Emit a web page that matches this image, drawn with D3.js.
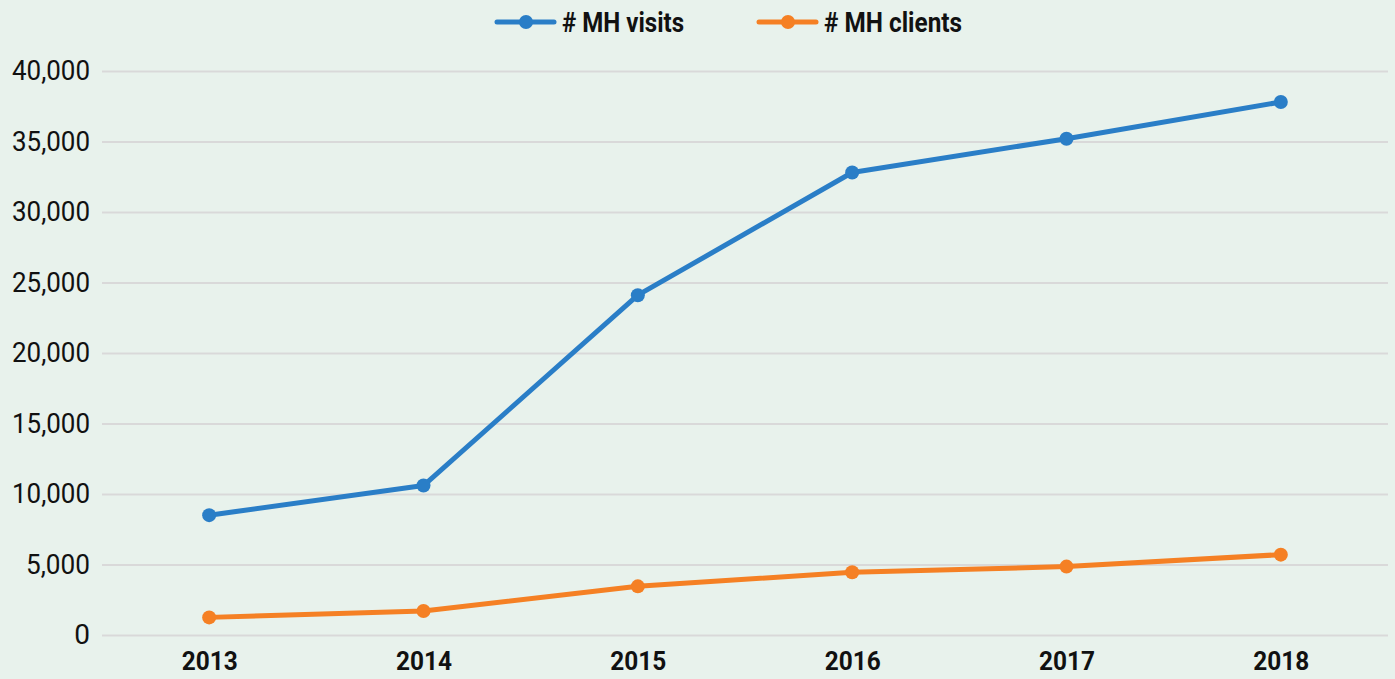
<!doctype html>
<html lang="en">
<head>
<meta charset="UTF-8" />
<title>MH visits and clients</title>
<script src="https://cdn.jsdelivr.net/npm/d3@7"></script>
<style>
  html, body { margin: 0; padding: 0; background: #e8f2ec; }
  svg { display: block; }
</style>
</head>
<body>
<svg id="chart" width="1395" height="679"></svg>
<script>
// data
const years = ["2013", "2014", "2015", "2016", "2017", "2018"];
const mhVisits = [8500, 10600, 24100, 32800, 35200, 37800];
const mhClients = [1250, 1700, 3450, 4450, 4850, 5700];
const yTicks = [0, 5000, 10000, 15000, 20000, 25000, 30000, 35000, 40000];
const seriesNames = ["# MH visits", "# MH clients"];
const seriesColors = ["#2a7ec7", "#f58024"];

const svg = d3.select("#chart");
const margin = { top: 71, right: 7, bottom: 44, left: 102 };
const width = 1395 - margin.left - margin.right;
const height = 679 - margin.top - margin.bottom;

const g = svg.append("g").attr("transform", `translate(${margin.left},${margin.top})`);

const x = d3.scalePoint().domain(years).range([0, width]).padding(0.5);
const y = d3.scaleLinear().domain([0, 40000]).range([height, 0]);

// gridlines + y labels
const yAxis = g.append("g")
  .call(d3.axisLeft(y).tickValues(yTicks).tickSize(-width).tickPadding(12)
    .tickFormat(d3.format(",")));
yAxis.select(".domain").remove();
yAxis.selectAll(".tick line").attr("stroke", "#d9d9d9").attr("stroke-width", 2);
yAxis.selectAll(".tick text")
  .attr("fill", "#111")
  .style("font-family", "Roboto, sans-serif")
  .style("font-size", "28px")
  .attr("textLength", d => d === 0 ? null : (d < 10000 ? 64 : 78))
  .attr("lengthAdjust", "spacingAndGlyphs");

// x labels (kept just inside the bottom edge)
const xAxis = g.append("g")
  .attr("transform", `translate(0,${height})`)
  .call(d3.axisBottom(x).tickSize(0).tickPadding(17));
xAxis.select(".domain").remove();
xAxis.selectAll(".tick text")
  .attr("fill", "#111")
  .style("font-family", "Roboto, sans-serif")
  .style("font-weight", "bold")
  .style("font-size", "26px")
  .attr("textLength", 56)
  .attr("lengthAdjust", "spacingAndGlyphs");

const line = d3.line().x((d, i) => x(years[i])).y(d => y(d));

[mhVisits, mhClients].forEach((vals, si) => {
  g.append("path")
    .datum(vals)
    .attr("d", line)
    .attr("fill", "none")
    .attr("stroke", seriesColors[si])
    .attr("stroke-width", 5)
    .attr("stroke-linejoin", "round");
  g.selectAll(".pt" + si)
    .data(vals)
    .join("circle")
    .attr("cx", (d, i) => x(years[i]))
    .attr("cy", d => y(d))
    .attr("r", 7)
    .attr("fill", seriesColors[si]);
});

// legend
const legendX = [497, 759];
const textW = [122, 138];
seriesNames.forEach((name, i) => {
  const lg = svg.append("g").attr("transform", `translate(${legendX[i]},22)`);
  lg.append("line").attr("x1", 0).attr("x2", 57).attr("y1", 0).attr("y2", 0)
    .attr("stroke", seriesColors[i]).attr("stroke-width", 5).attr("stroke-linecap", "round");
  lg.append("circle").attr("cx", 29).attr("cy", 0).attr("r", 7).attr("fill", seriesColors[i]);
  lg.append("text")
    .attr("x", 65).attr("y", 10)
    .attr("fill", "#111")
    .style("font-family", "Roboto, sans-serif")
    .style("font-weight", "bold")
    .style("font-size", "27px")
    .attr("textLength", textW[i])
    .attr("lengthAdjust", "spacingAndGlyphs")
    .text(name);
});
</script>
</body>
</html>
